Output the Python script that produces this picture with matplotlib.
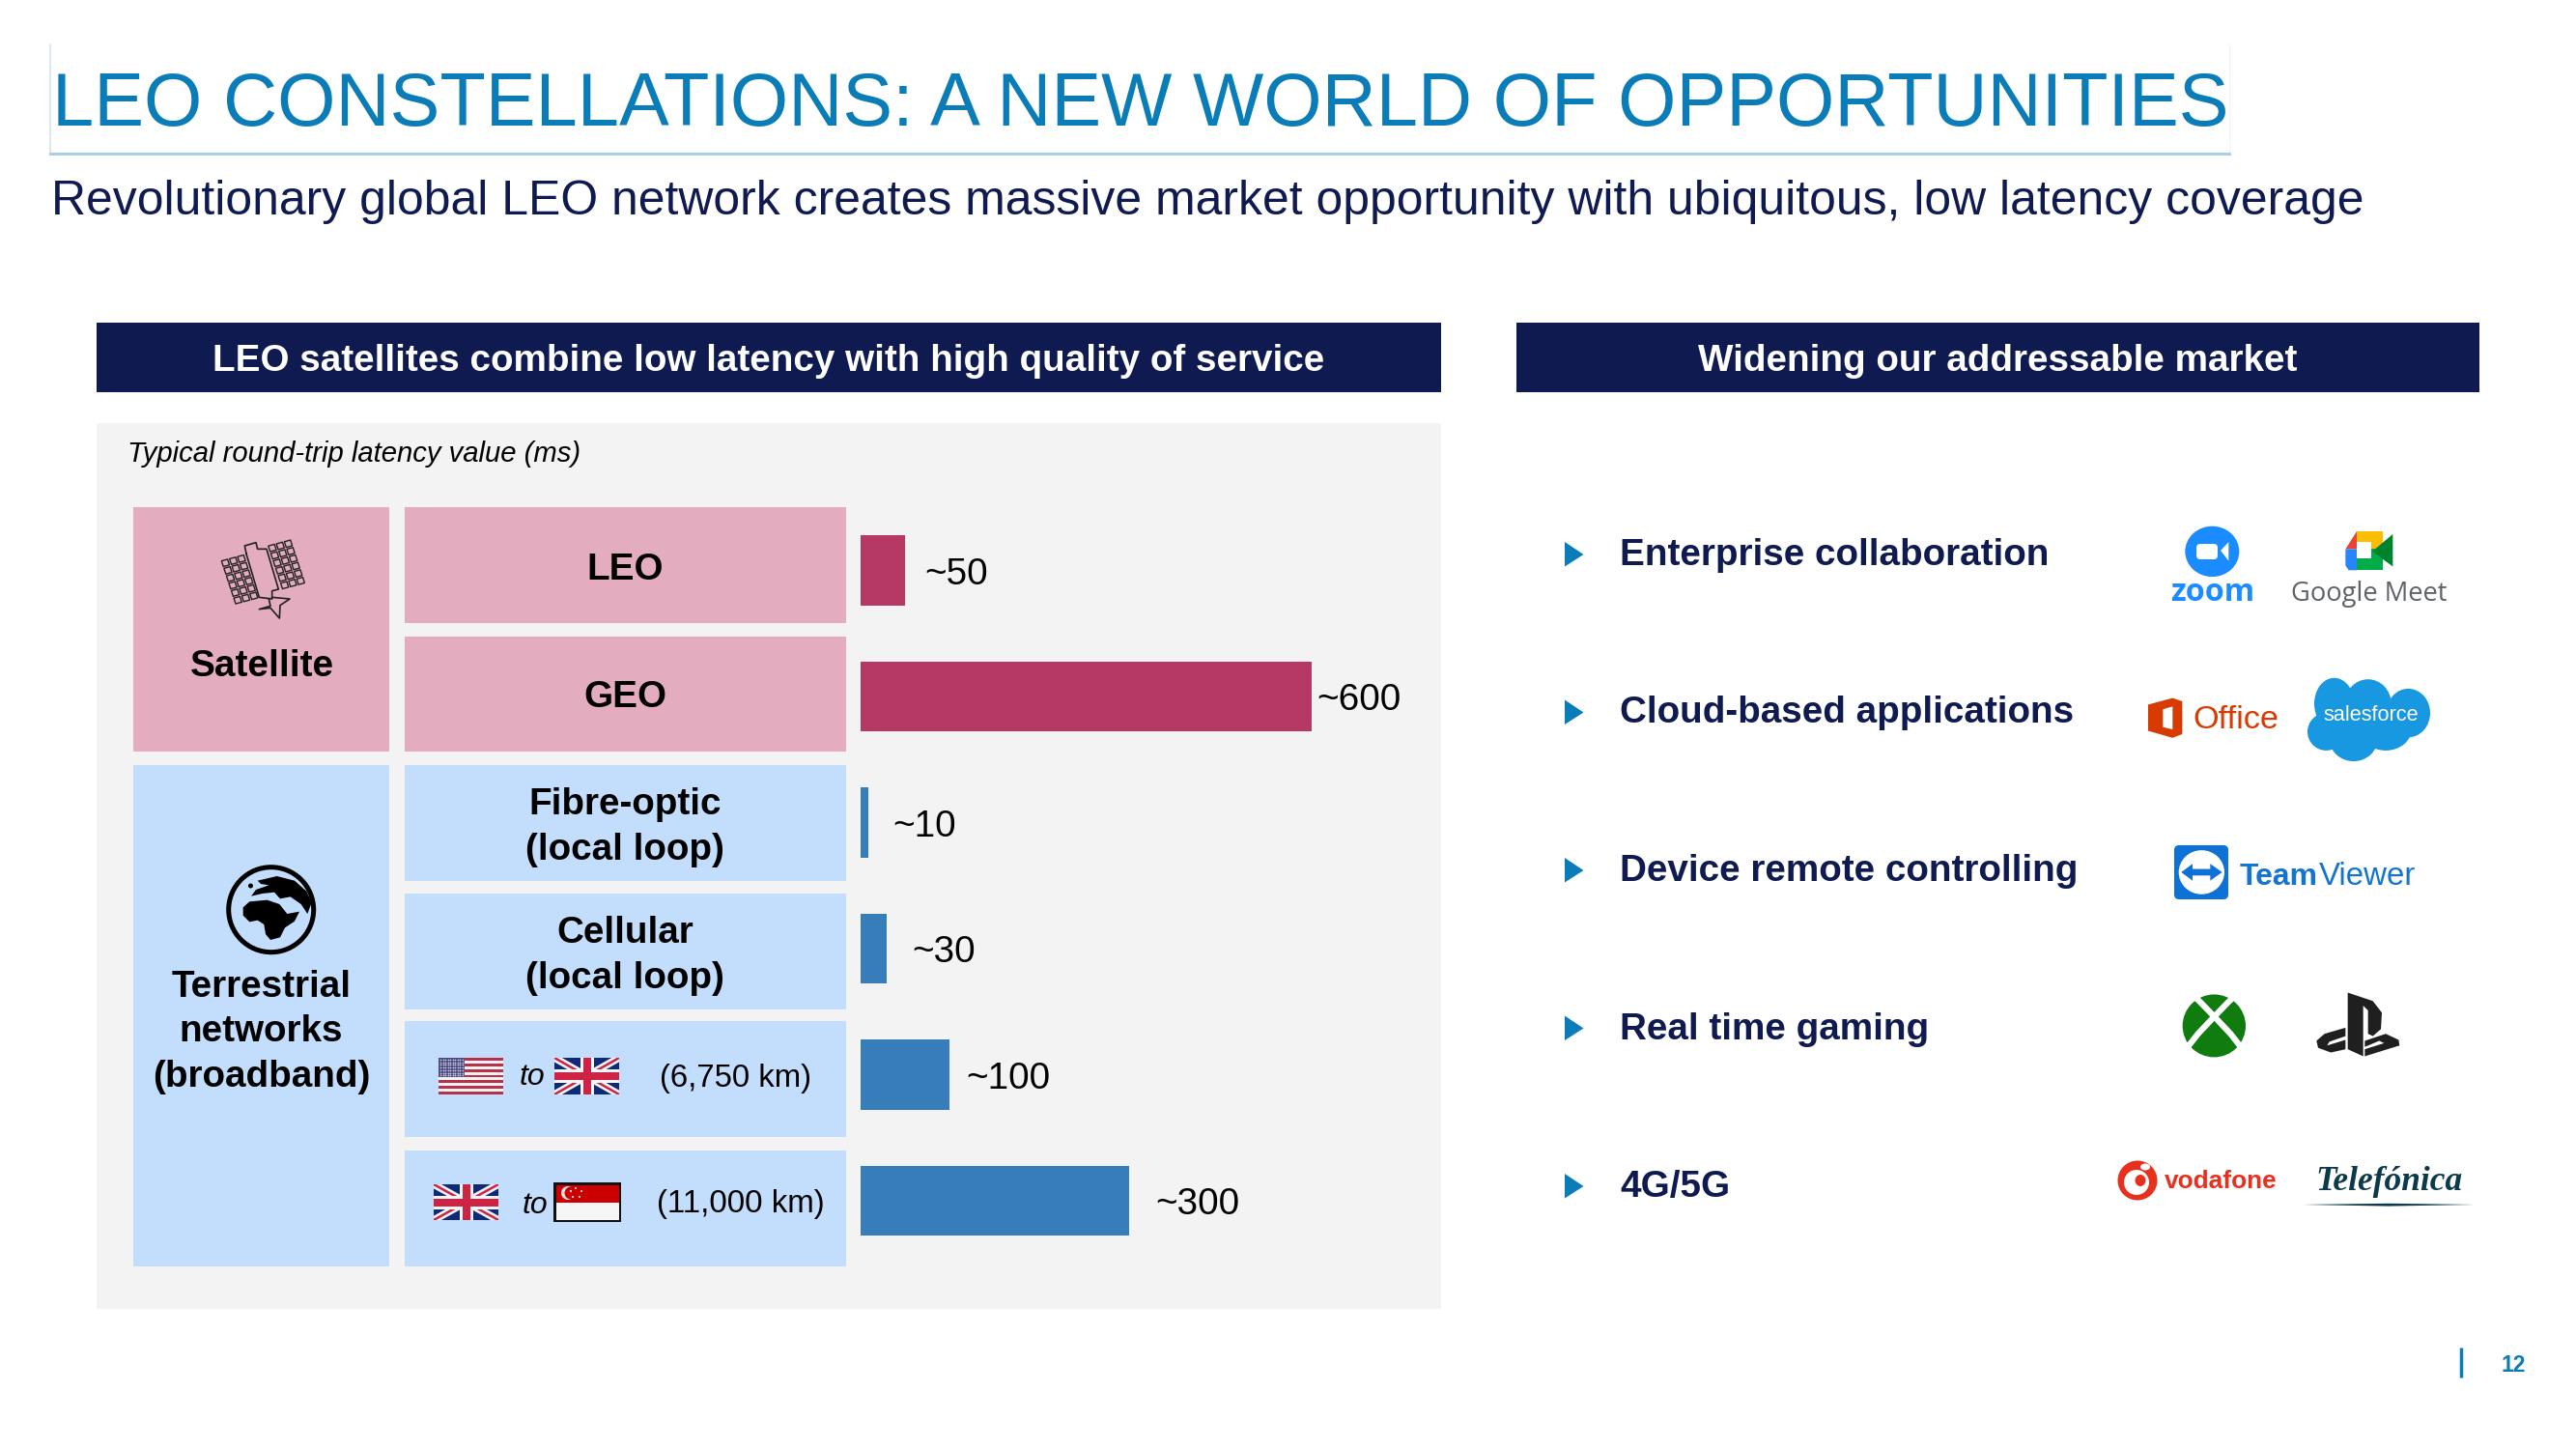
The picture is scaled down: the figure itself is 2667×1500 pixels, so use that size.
import numpy as np
import matplotlib
matplotlib.use("Agg")
import matplotlib.pyplot as plt
from matplotlib.patches import Rectangle, Polygon, Ellipse, Circle, FancyBboxPatch

plt.rcParams['font.family'] = ['Liberation Sans', 'DejaVu Sans']

# ---------- data ----------
title = "LEO CONSTELLATIONS: A NEW WORLD OF OPPORTUNITIES"
subtitle = "Revolutionary global LEO network creates massive market opportunity with ubiquitous, low latency coverage"
left_header = "LEO satellites combine low latency with high quality of service"
right_header = "Widening our addressable market"
caption = "Typical round-trip latency value (ms)"
row_labels = ["LEO", "GEO", "Fibre-optic\n(local loop)", "Cellular\n(local loop)", "", ""]
route_km = ["(6,750 km)", "(11,000 km)"]
# drawn bar lengths (the GEO bar is drawn shorter than its ~600 label)
bar_lengths = [50, 505, 9, 29, 100, 301]
bar_labels = ["~50", "~600", "~10", "~30", "~100", "~300"]
bar_groups = ["sat", "sat", "ter", "ter", "ter", "ter"]
label_gaps = [20, 5.5, 24.5, 26, 16.5, 26.5]
markets = ["Enterprise collaboration", "Cloud-based applications", "Device remote controlling",
           "Real time gaming", "4G/5G"]
page_number = "12"

PINK, PINK_BAR = "#E3ACBF", "#B53865"
BLUE, BLUE_BAR = "#C3DEFC", "#377DBA"
NAVY, TEAL = "#0F1A50", "#0A7DB8"
GREY = "#F3F3F3"

W, H = 2667, 1500
fig = plt.figure(figsize=(W / 100, H / 100), dpi=100, facecolor="white")
bg = fig.add_axes([0, 0, 1, 1])
bg.set_xlim(0, W); bg.set_ylim(H, 0); bg.axis("off")
renderer = fig.canvas.get_renderer()


def T(x, y, s, fs=20, width=None, ha="left", va="center", color="black", weight="normal",
      style="normal", family=None, z=5, **kw):
    t = bg.text(x, y, s, fontsize=fs, ha=ha, va=va, color=color, fontweight=weight,
                fontstyle=style, zorder=z, **kw)
    if family:
        t.set_fontfamily(family)
    if width:
        t.set_fontsize(fs * width / t.get_window_extent(renderer).width)
    return t


def R(x0, y0, x1, y1, c, z=1, **kw):
    p = Rectangle((x0, y0), x1 - x0, y1 - y0, facecolor=c, edgecolor="none", zorder=z, **kw)
    bg.add_patch(p)
    return p


# ---------- title ----------
bg.plot([52, 52], [46, 159], color="#DCE9F1", lw=1.5, zorder=2)
bg.plot([2308, 2308], [46, 159], color="#F0F5F8", lw=1.0, zorder=2)
bg.plot([52, 2308], [159, 159], color="#A9CFE2", lw=2.2, zorder=2)
T(53.5, 130, title, fs=57, width=2250, va="baseline", color=TEAL)
T(53, 222, subtitle, fs=37, width=2391, va="baseline", color=NAVY)

# ---------- headers ----------
R(100, 334, 1492, 406, NAVY)
R(1570, 334, 2567, 406, NAVY)
T(796, 374, left_header, fs=28, width=1152, ha="center", color="white", weight="bold")
T(2068, 374, right_header, fs=28, width=621, ha="center", color="white", weight="bold")

# ---------- left panel ----------
R(100, 438, 1492, 1355, GREY)
T(132, 470, caption, fs=20, width=468, style="italic")
R(138, 525, 403, 778, PINK, 2)
R(138, 792, 403, 1311, BLUE, 2)
rows_y = [(525, 645), (659, 778), (792, 912), (925, 1045), (1057, 1177), (1191, 1311)]
for (y0, y1), g, lab in zip(rows_y, bar_groups, row_labels):
    R(419, y0, 876, y1, PINK if g == "sat" else BLUE, 2)
    if lab:
        parts = lab.split("\n")
        yc = (y0 + y1) / 2 + 5
        if len(parts) == 1:
            T(647, yc - (1 if g == "sat" and y0 > 600 else 0), lab, fs=27.8, ha="center", weight="bold")
        else:
            T(647, yc - 24, parts[0], fs=27.8, ha="center", weight="bold")
            T(647, yc + 23, parts[1], fs=27.8, ha="center", weight="bold")
T(271, 690, "Satellite", fs=27.8, ha="center", weight="bold", width=149)
T(270.5, 1022, "Terrestrial", fs=27.8, ha="center", weight="bold")
T(270.5, 1068, "networks", fs=27.8, ha="center", weight="bold")
T(270.5, 1115, "(broadband)", fs=27.8, ha="center", weight="bold")

# ---------- bars ----------
bx0, bx1, by0, by1 = 891, 1490, 525.25, 1308.25
ax = fig.add_axes([bx0 / W, 1 - by1 / H, (bx1 - bx0) / W, (by1 - by0) / H])
ax.set_xlim(0, (bx1 - bx0) / 0.925)
ax.set_ylim(5.5, -0.5)
ax.axis("off"); ax.patch.set_alpha(0)
ypos = np.arange(len(bar_lengths))
ax.barh(ypos, bar_lengths, height=0.555, color=[PINK_BAR if g == "sat" else BLUE_BAR for g in bar_groups])
for y, v, l, g in zip(ypos, bar_lengths, bar_labels, label_gaps):
    ax.annotate(l, (v, y), xytext=(g * 0.72, -3), textcoords="offset points",
                va="center", ha="left", fontsize=27.8, color="black", annotation_clip=False)


# ---------- flags ----------
def clip_rect(x0, y0, x1, y1):
    return Rectangle((x0, y0), x1 - x0, y1 - y0, transform=bg.transData)


def flag_us(x0, y0, x1, y1):
    h = (y1 - y0) / 13
    R(x0, y0, x1, y1, "#F4F1F2", 3)
    for i in range(0, 13, 2):
        R(x0, y0 + i * h, x1, y0 + (i + 1) * h, "#B5324A", 3)
    cw, ch = (x1 - x0) * 0.4, 7 * h
    R(x0, y0, x0 + cw, y0 + ch, "#4A4A80", 4)
    xs, ys = np.meshgrid(np.linspace(x0 + 2, x0 + cw - 2, 10), np.linspace(y0 + 2, y0 + ch - 2, 7))
    bg.scatter(xs.ravel(), ys.ravel(), s=1.6, color="#C9C9DE", linewidths=0, zorder=5)


def flag_uk(x0, y0, x1, y1):
    R(x0, y0, x1, y1, "#0F2A78", 3)
    clip = clip_rect(x0, y0, x1, y1)
    for a, b in (((x0, y0), (x1, y1)), ((x0, y1), (x1, y0))):
        l1, = bg.plot([a[0], b[0]], [a[1], b[1]], color="#F5F5F5", lw=5.5, zorder=4, solid_capstyle="butt")
        l2, = bg.plot([a[0], b[0]], [a[1], b[1]], color="#CF2345", lw=1.8, zorder=4, solid_capstyle="butt")
        l1.set_clip_path(clip); l2.set_clip_path(clip)
    xm, ym = (x0 + x1) / 2, (y0 + y1) / 2
    R(xm - 7, y0, xm + 7, y1, "#F5F5F5", 4); R(x0, ym - 7, x1, ym + 7, "#F5F5F5", 4)
    R(xm - 4, y0, xm + 4, y1, "#CF2345", 4); R(x0, ym - 4, x1, ym + 4, "#CF2345", 4)


def flag_sg(x0, y0, x1, y1):
    R(x0, y0, x1, y1, "#111111", 3)
    R(x0 + 2.5, y0 + 2.5, x1 - 2.5, (y0 + y1) / 2, "#CC0000", 4)
    R(x0 + 2.5, (y0 + y1) / 2, x1 - 2.5, y1 - 2.5, "#F6F6F6", 4)
    bg.add_patch(Circle((x0 + 15, y0 + 11), 7, fc="#F8E8E8", ec="none", zorder=5))
    bg.add_patch(Circle((x0 + 18, y0 + 11), 6.5, fc="#CC0000", ec="none", zorder=5))
    for dx, dy in ((20, 6), (26, 9), (24, 15), (17, 15), (15, 9)):
        bg.add_patch(Circle((x0 + dx + 3, y0 + dy), 1.1, fc="#F8DCDC", ec="none", zorder=6))


flag_us(454, 1095, 521, 1133)
flag_uk(574, 1095, 641, 1133)
flag_uk(449, 1226, 516, 1263)
flag_sg(573, 1224, 643, 1265)
T(538, 1115, "to", fs=23, style="italic")
T(541, 1248, "to", fs=23, style="italic")
T(683, 1117, route_km[0], fs=23.7, width=157)
T(680, 1246, route_km[1], fs=23.7, width=174)


# ---------- satellite icon ----------
def grid(ox, oy):
    u, v = np.array([8.3, -2.2]), np.array([2.55, 7.7])
    for i in range(3):
        for j in range(6):
            c = np.array([ox, oy]) + i * u + j * v
            pts = [c + u * .12 + v * .12, c + u * .88 + v * .12, c + u * .88 + v * .88, c + u * .12 + v * .88]
            bg.add_patch(Polygon(pts, closed=True, fc="none", ec="#222222", lw=1.0, zorder=5))


grid(228, 580)
grid(276.5, 564.5)


def Z6(p):
    return [(200 + a / 3, 540 + b / 3) for a, b in p]


bg.plot(*zip(*Z6([(165, 100), (160, 75), (195, 65), (200, 85), (228, 85), (265, 210), (245, 215),
                  (245, 240), (205, 235), (165, 100)])), color="#222222", lw=1.2, zorder=5)
bg.plot(*zip(*Z6([(235, 240), (240, 262), (205, 272), (240, 268), (268, 300), (270, 260), (300, 240), (245, 235)])),
        color="#222222", lw=1.2, zorder=5)


# ---------- globe icon ----------
def Z7(p):
    return [(210 + a / 3, 891 + b / 3) for a, b in p]


bg.add_patch(Circle((280.7, 941.7), 44, fc="none", ec="black", lw=3.6, zorder=5))
bg.add_patch(Polygon(Z7([(125, 145), (145, 127), (200, 122), (238, 135), (262, 165), (300, 158), (285, 188),
                         (255, 208), (240, 238), (210, 246), (195, 228), (190, 198), (170, 185), (145, 190),
                         (125, 170)]), fc="black", ec="none", zorder=5))
bg.add_patch(Polygon(Z7([(170, 62), (230, 48), (285, 62), (322, 95), (338, 130), (325, 165), (305, 135), (272, 112),
                         (240, 118), (222, 98), (185, 102), (150, 110), (165, 90), (205, 76), (180, 72)]),
                     fc="black", ec="none", zorder=5))
bg.add_patch(Circle((259.5, 917), 2.5, fc="black", ec="none", zorder=5))

# ---------- right side ----------
for i, m in enumerate(markets):
    yb = 585 + 163.5 * i
    bg.add_patch(Polygon([(1620, yb - 24), (1620, yb + 1.5), (1639.5, yb - 11)], fc=TEAL, ec="none", zorder=3))
    T(1677, yb, m, fs=27.8, va="baseline", color=NAVY, weight="bold")


def Z(p):
    return [(2150 + a / 3, 520 + b / 2.063) for a, b in p]


def PG(p, c, z=5):
    bg.add_patch(Polygon(Z(p), closed=True, fc=c, ec="none", zorder=z))


def EL(a, b, ra, rb, c, z=5):
    bg.add_patch(Ellipse(Z([(a, b)])[0], 2 * ra / 3, 2 * rb / 2.063, fc=c, ec="none", zorder=z))


# zoom
EL(421, 105, 84, 54, "#1A8CFF")
bg.add_patch(FancyBboxPatch((2274, 563), 22, 16, boxstyle="round,pad=0,rounding_size=4", fc="white", ec="none", zorder=6))
PG([(447, 103), (472, 85), (472, 125)], "white", 6)
T(2291, 613, "zoom", fs=24, width=87, ha="center", color="#1A8CFF", weight="bold", family="Open Sans")
# Google Meet
PG([(835, 100), (870, 62), (870, 100)], "#EA4335")
PG([(870, 62), (950, 62), (950, 100), (915, 100), (915, 85), (870, 85)], "#FBBC04")
PG([(835, 100), (870, 100), (870, 145), (845, 145), (835, 135)], "#2684FC")
PG([(870, 120), (915, 120), (915, 100), (950, 100), (950, 145), (870, 145)], "#00AC47")
PG([(918, 105), (982, 68), (982, 137)], "#00832D")
T(2453, 615, "Google Meet", fs=20, width=162, ha="center", color="#5F6368", family="Open Sans")
# Office
PG([(222, 432), (298, 418), (328, 425), (328, 495), (298, 503), (222, 488)], "#D83B01")
PG([(268, 442), (298, 436), (298, 485), (268, 480)], "white", 6)
T(2270, 746, "Office", fs=24, width=89, color="#D83B01")
# salesforce
for a, b, ra, rb in ((800, 430, 62, 55), (905, 430, 72, 52), (1030, 450, 68, 52), (775, 490, 58, 40),
                     (860, 505, 75, 48), (960, 485, 80, 45)):
    EL(a, b, ra, rb, "#1798E0")
T(2455, 741, "salesforce", fs=15, width=99, ha="center", color="white")
# TeamViewer
bg.add_patch(FancyBboxPatch((2254, 878), 50, 50, boxstyle="round,pad=3,rounding_size=5", fc="#0E71D6", ec="none", zorder=5))
EL(388, 790, 71, 47, "white", 6)
PG([(325, 790), (360, 772), (360, 783), (415, 783), (415, 772), (452, 790), (415, 808), (415, 797), (360, 797), (360, 808)],
   "#0E71D6", 7)
T(2319, 908, "Team", fs=22, width=81, color="#1475D0", weight="bold")
T(2401, 908, "Viewer", fs=22, width=100, color="#1475D0")
# Xbox
EL(427, 1118, 98, 67, "#107C10")
for pts in (((335, 1035), (385, 1068), (430, 1100), (478, 1135), (535, 1185)),
            ((520, 1035), (470, 1068), (425, 1100), (377, 1135), (320, 1185))):
    bg.plot(*zip(*Z(pts)), color="white", lw=4.5, zorder=6)
# PlayStation
PG([(842, 1047), (920, 1065), (948, 1090), (945, 1125), (920, 1140), (905, 1135), (905, 1085), (890, 1075),
    (890, 1183), (842, 1168)], "#1F1F1F")
PG([(745, 1150), (770, 1135), (835, 1122), (835, 1140), (785, 1152), (778, 1160), (835, 1148), (835, 1168),
    (790, 1175), (750, 1165)], "#1F1F1F")
PG([(895, 1150), (960, 1135), (1000, 1148), (1003, 1160), (895, 1183), (895, 1168), (955, 1155), (940, 1150),
    (895, 1163)], "#1F1F1F")
# Vodafone
bg.add_patch(Circle((2213, 1222), 20.5, fc="#E8301F", ec="none", zorder=5))
bg.add_patch(Circle((2212, 1224), 13, fc="white", ec="none", zorder=6))
bg.add_patch(Ellipse((2221, 1208), 10, 7, fc="white", ec="none", zorder=6))
bg.add_patch(Ellipse((2216, 1222), 11, 12, fc="#E8301F", ec="none", zorder=7))
T(2241, 1223, "vodafone", fs=24, width=117, color="#E8301F", weight="bold")
# Telefonica
T(2397, 1223, "Telefónica", fs=32, width=152, color="#0B3A4A", weight="bold", style="italic", family="Liberation Serif")
bg.add_patch(Polygon([(2384, 1247), (2473, 1245.8), (2562, 1247), (2473, 1248.6)], fc="#0B3A4A", ec="none", zorder=5))

# ---------- footer ----------
bg.plot([2548, 2548], [1395, 1425.5], color=TEAL, lw=2.5, zorder=3, solid_capstyle="butt")
T(2602.5, 1414, page_number, fs=16.5, ha="center", color=TEAL, weight="bold")

fig.savefig("out.png", dpi=100, facecolor="white")
